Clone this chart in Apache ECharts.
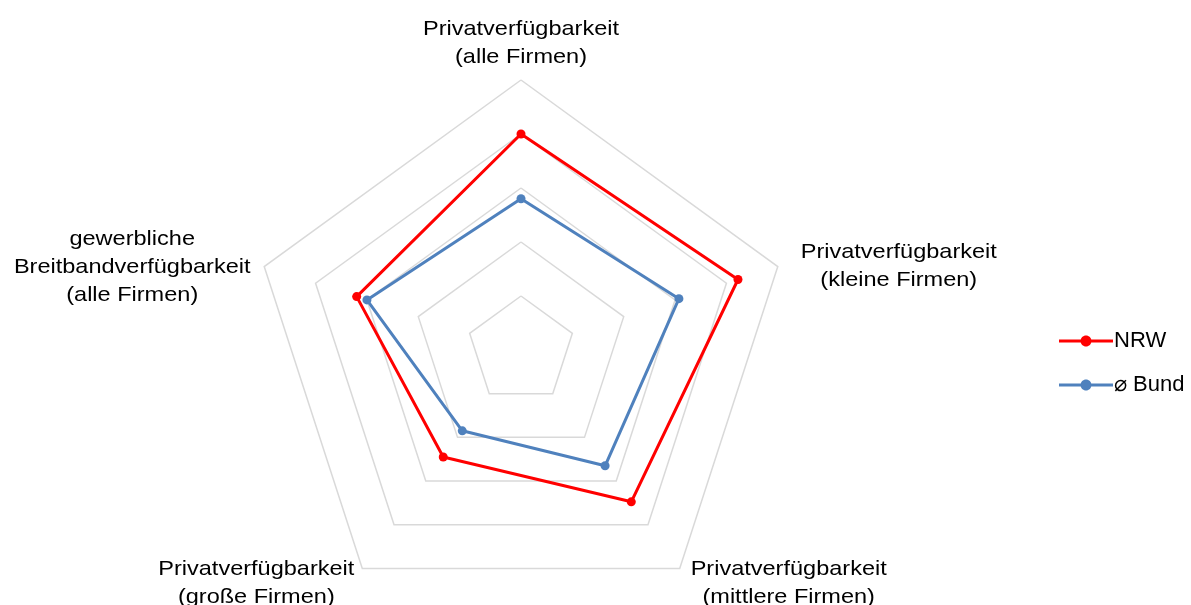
<!DOCTYPE html>
<html>
<head>
<meta charset="utf-8">
<script src="https://cdn.jsdelivr.net/npm/echarts@6/dist/echarts.min.js"></script>
<style>
    html, body { margin: 0; padding: 0; background: #fff; }
    #chart { width: 1191px; height: 605px; }
</style>
</head>
<body>
<div id="chart"></div>
<script>
// Achsen gegen den Uhrzeigersinn, beginnend oben
var indicators = [
    'Privatverfügbarkeit\n(alle Firmen)',
    'gewerbliche\nBreitbandverfügbarkeit\n(alle Firmen)',
    'Privatverfügbarkeit\n(große Firmen)',
    'Privatverfügbarkeit\n(mittlere Firmen)',
    'Privatverfügbarkeit\n(kleine Firmen)'
];
var nrw = [80, 64, 49, 69.5, 84.5];
var bund = [56, 60, 37, 53, 61.5];
var seriesNames = ['NRW', '⌀ Bund'];

var chart = echarts.init(document.getElementById('chart'));

var cx = 521, cy = 350, R = 270;
var font = '"Liberation Sans", Arial, sans-serif';

// Beschriftungen wie im Original (Excel) neben den Ecken
var labelOffsets = [
    { dx: 0, dy: -37 },
    { dx: -132, dy: 1 },
    { dx: -106, dy: 15 },
    { dx: 109, dy: 15 },
    { dx: 121, dy: 0 }
];

var graphics = indicators.map(function (name, i) {
    var a = Math.PI / 2 + i * 2 * Math.PI / indicators.length;
    var vx = cx + R * Math.cos(a);
    var vy = cy - R * Math.sin(a);
    return {
        type: 'text',
        x: vx + labelOffsets[i].dx,
        y: vy + labelOffsets[i].dy,
        scaleX: 1.12,
        silent: true,
        style: {
            text: name,
            fill: '#000',
            fontSize: 21,
            fontFamily: font,
            align: 'center',
            verticalAlign: 'middle',
            lineHeight: 28
        }
    };
});

// Legendensymbol: Linie mit Punkt (Kreis als Vieleck)
function legendIcon() {
    var p = 'path://M0,4.5L54,4.5L54,7.5L0,7.5Z M';
    var pts = [];
    for (var k = 0; k < 32; k++) {
        var t = Math.PI + k * 2 * Math.PI / 32;
        pts.push((27 + 5.5 * Math.cos(t)).toFixed(2) + ',' + (6 + 5.5 * Math.sin(t)).toFixed(2));
    }
    return p + pts.join('L') + 'Z';
}

var option = {
    animation: false,
    backgroundColor: '#fff',
    legend: {
        orient: 'vertical',
        left: 1054,
        top: 325,
        itemWidth: 54,
        itemHeight: 11,
        itemGap: 22,
        icon: legendIcon(),
        data: seriesNames,
        textStyle: { color: '#000', fontSize: 22, fontFamily: font, padding: [0, 0, 0, -4] }
    },
    radar: {
        center: [cx, cy],
        radius: R,
        startAngle: 90,
        shape: 'polygon',
        splitNumber: 5,
        indicator: indicators.map(function (n) { return { name: n, max: 100 }; }),
        axisName: { show: false },
        axisLine: { show: false },
        axisTick: { show: false },
        axisLabel: { show: false },
        splitArea: { show: false },
        splitLine: { lineStyle: { color: '#D9D9D9', width: 1.5 } }
    },
    graphic: graphics,
    series: [{
        type: 'radar',
        symbol: 'circle',
        symbolSize: 9,
        data: [
            {
                name: seriesNames[0], value: nrw,
                itemStyle: { color: '#FF0000' },
                lineStyle: { color: '#FF0000', width: 3 }
            },
            {
                name: seriesNames[1], value: bund,
                itemStyle: { color: '#4F81BD' },
                lineStyle: { color: '#4F81BD', width: 3 }
            }
        ]
    }]
};

chart.setOption(option);
</script>
</body>
</html>
